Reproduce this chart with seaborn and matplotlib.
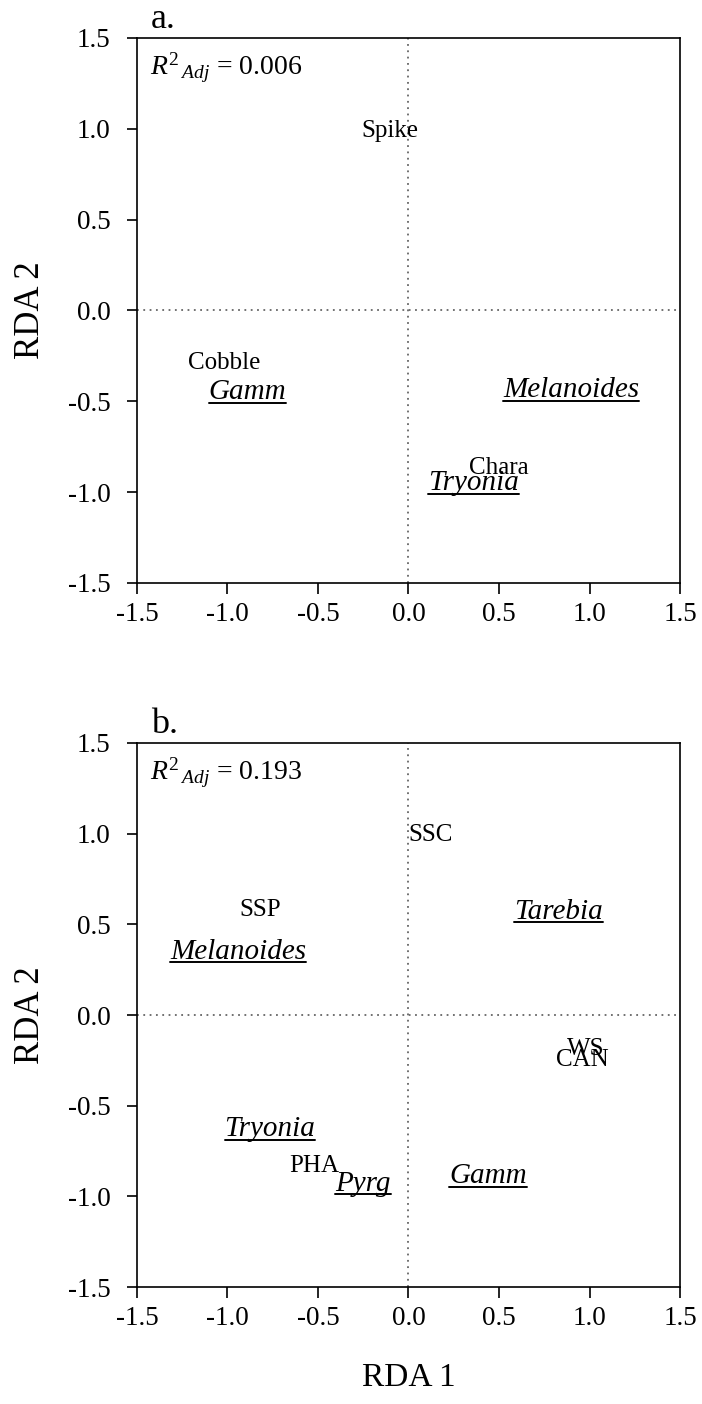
import matplotlib
matplotlib.use('Agg')
import matplotlib.pyplot as plt
import seaborn as sns

# panel a: RDA with substrate / vegetation
labels_a = ['Spike', 'Cobble', 'Gamm', 'Melanoides', 'Chara', 'Tryonia']
x_a = [-0.10, -1.02, -0.89, 0.90, 0.50, 0.36]
y_a = [0.99, -0.29, -0.45, -0.44, -0.87, -0.95]
italic_a = [False, False, True, True, False, True]
r2_a = '0.006'

# panel b: RDA with water chemistry
labels_b = ['SSC', 'SSP', 'Tarebia', 'Melanoides', 'WS', 'CAN',
            'Tryonia', 'PHA', 'Pyrg', 'Gamm']
x_b = [0.12, -0.82, 0.83, -0.94, 0.98, 0.96, -0.765, -0.52, -0.25, 0.44]
y_b = [0.99, 0.58, 0.57, 0.35, -0.19, -0.25, -0.63, -0.83, -0.93, -0.89]
italic_b = [False, False, True, True, False, False, True, False, True, True]
r2_b = '0.193'

ticks = [-1.5, -1.0, -0.5, 0.0, 0.5, 1.0, 1.5]
tick_labels = ['-1.5', '-1.0', '-0.5', '0.0', '0.5', '1.0', '1.5']

sns.set_style('ticks')
plt.rcParams['font.family'] = ['Liberation Serif', 'DejaVu Serif']
plt.rcParams['mathtext.fontset'] = 'custom'
plt.rcParams['mathtext.rm'] = 'Liberation Serif'
plt.rcParams['mathtext.it'] = 'Liberation Serif:italic'

fig = plt.figure(figsize=(7.02, 14.04), dpi=100)
ax_a = fig.add_axes([0.195, 0.5848, 0.7737, 0.3882])
ax_b = fig.add_axes([0.195, 0.0833, 0.7737, 0.3875])

species_texts = []


def draw_panel(ax, labels, xs, ys, italics, r2, letter):
    ax.set_xlim(-1.5, 1.5)
    ax.set_ylim(-1.5, 1.5)
    ax.axhline(0, color='0.4', ls=(0, (1, 2.5)), lw=1.3, zorder=1)
    ax.axvline(0, color='0.4', ls=(0, (1, 2.5)), lw=1.3, zorder=1)
    for lab, x, y, it in zip(labels, xs, ys, italics):
        if it:
            t = ax.text(x, y, lab, ha='center', va='center', fontsize=21,
                        style='italic', color='black', zorder=3)
            species_texts.append((ax, t))
        else:
            ax.text(x, y, lab, ha='center', va='center', fontsize=18,
                    color='black', zorder=3)
    ax.set_xticks(ticks)
    ax.set_xticklabels(tick_labels)
    ax.set_yticks(ticks)
    ax.set_yticklabels(tick_labels)
    ax.tick_params(axis='x', direction='out', length=8, width=1.2,
                   labelsize=19.5, pad=6, colors='black')
    ax.tick_params(axis='y', direction='out', length=7, width=1.2,
                   labelsize=19.5, pad=12, colors='black')
    for sp in ax.spines.values():
        sp.set_color('black')
        sp.set_linewidth(1.2)
    ax.set_ylabel('RDA 2', fontsize=25, color='black')
    ax.yaxis.set_label_coords(-0.165, 0.5)
    ax.text(0.024, 0.932, r'$R^{2}{}_{\,Adj}$ = ' + r2, transform=ax.transAxes,
            fontsize=20, ha='left', va='baseline', color='black')
    ax.text(0.026, 1.018, letter, transform=ax.transAxes, fontsize=26,
            ha='left', va='baseline', color='black')


draw_panel(ax_a, labels_a, x_a, y_a, italic_a, r2_a, 'a.')
draw_panel(ax_b, labels_b, x_b, y_b, italic_b, r2_b, 'b.')

ax_b.set_xlabel('RDA 1', fontsize=24, color='black')
ax_b.xaxis.set_label_coords(0.5, -0.138)

# underline the italic taxon names using their rendered extents
fig.canvas.draw()
renderer = fig.canvas.get_renderer()
for ax, t in species_texts:
    bb = t.get_window_extent(renderer)
    inv = ax.transAxes.inverted()
    (x0, y0), (x1, _) = inv.transform([(bb.x0, bb.y0 + 2.5), (bb.x1, bb.y0 + 2.5)])
    ax.plot([x0, x1], [y0, y0], transform=ax.transAxes, color='black',
            lw=1.4, zorder=3)

fig.savefig('out.png', dpi=100)
